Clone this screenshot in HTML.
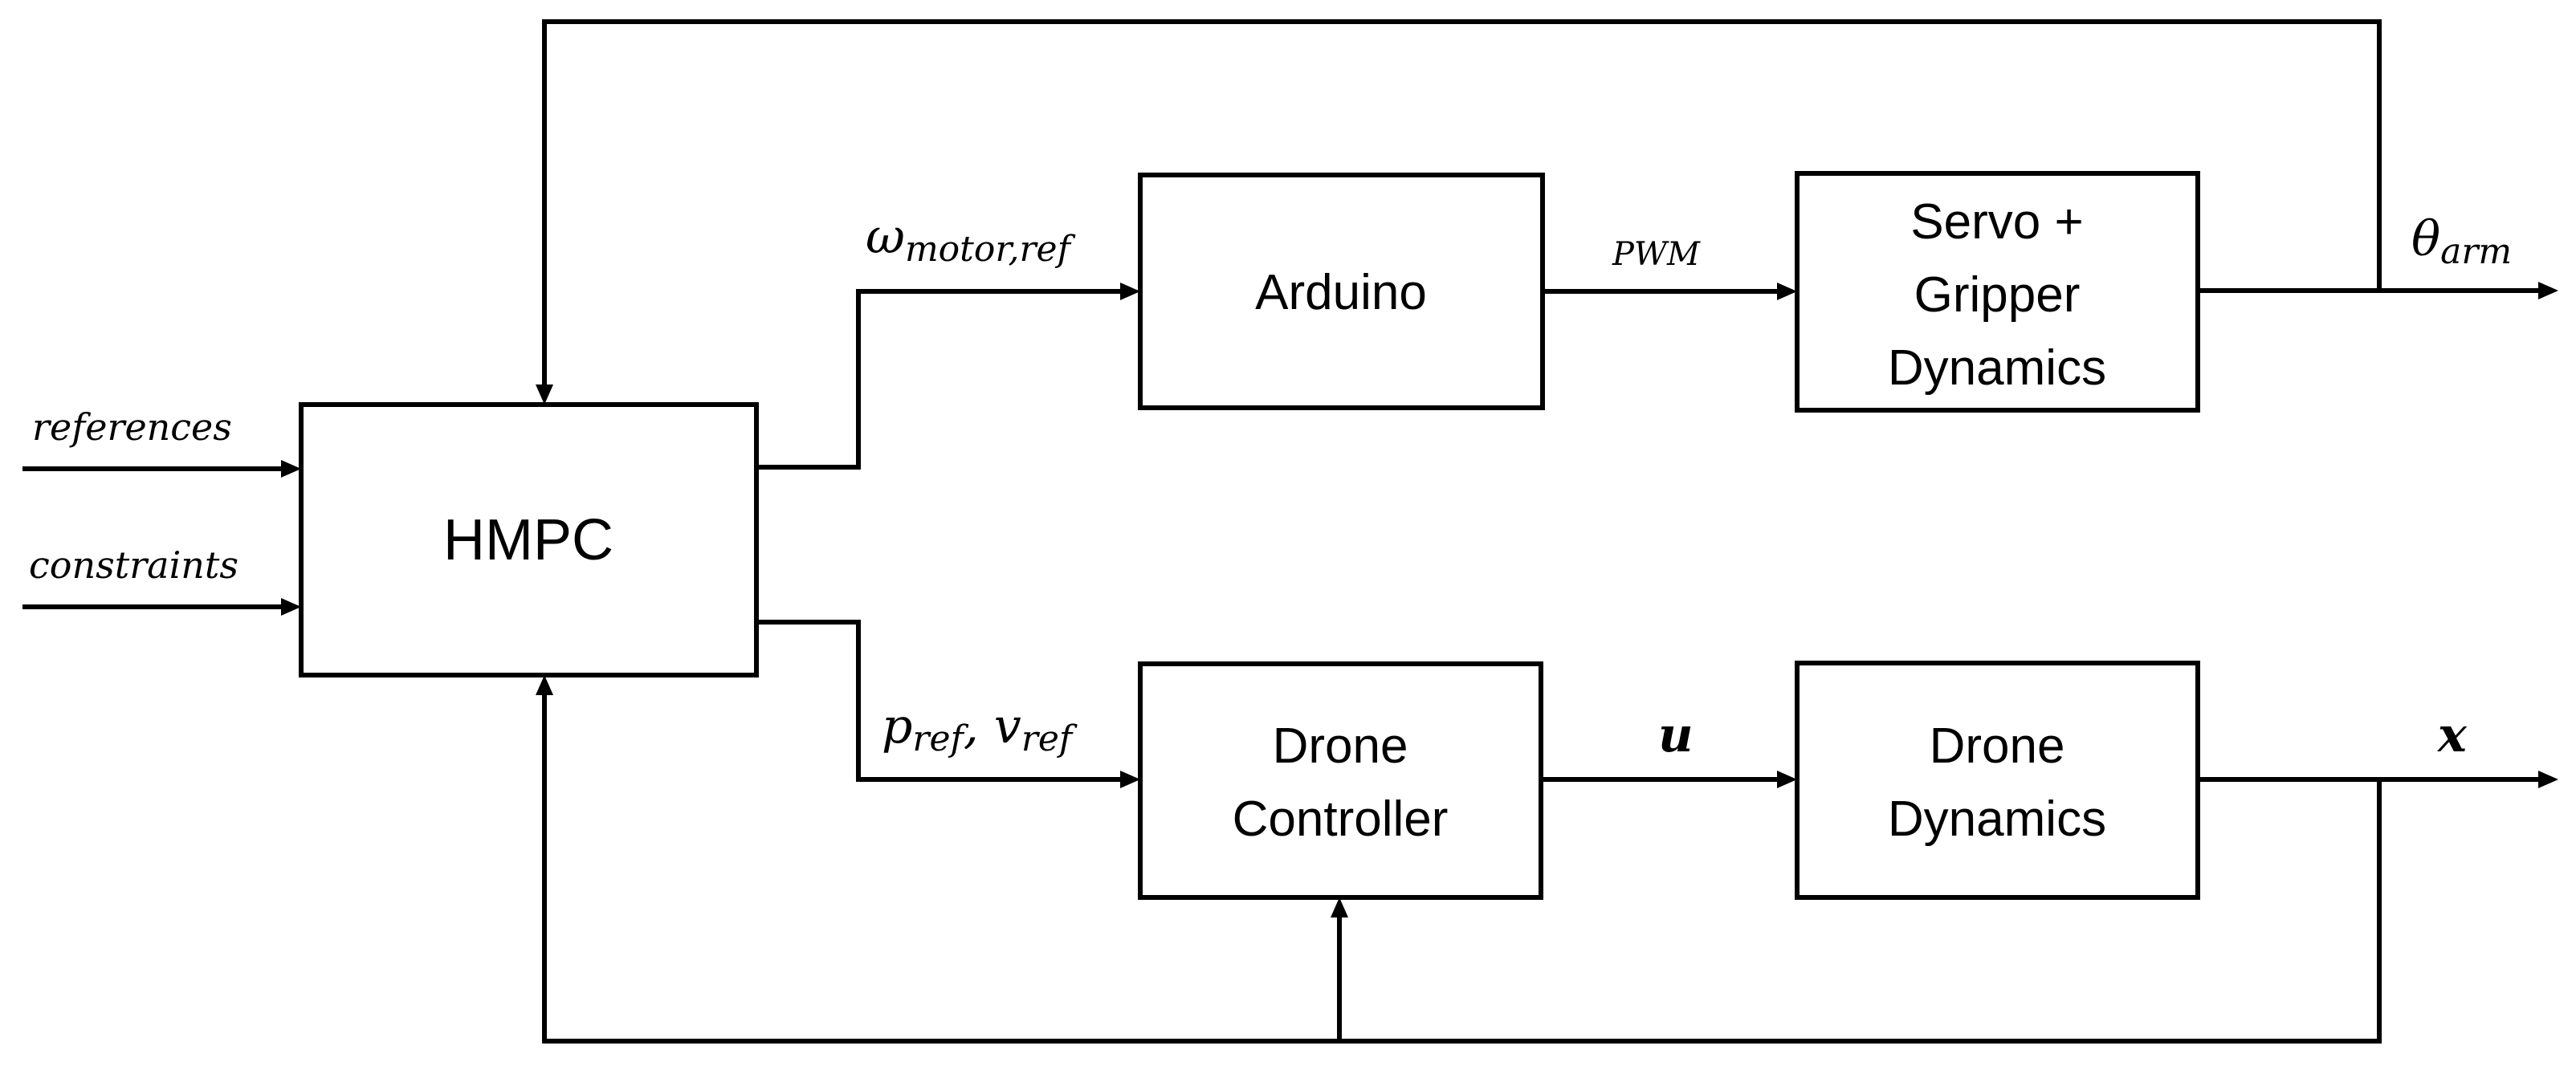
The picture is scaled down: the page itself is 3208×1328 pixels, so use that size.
<!DOCTYPE html>
<html><head><meta charset="utf-8"><style>
html,body{margin:0;padding:0;background:#fff;}
svg{display:block;}
.b{font-family:"Liberation Sans",sans-serif;font-size:62px;fill:#000;text-anchor:middle;}
.m{font-family:"DejaVu Serif","Liberation Serif",serif;font-style:italic;fill:#000;}
</style></head><body>
<svg width="3208" height="1328" viewBox="0 0 3208 1328" xmlns="http://www.w3.org/2000/svg">
<defs>
<marker id="a" markerWidth="10" markerHeight="10" refX="9" refY="5" orient="auto" markerUnits="userSpaceOnUse" viewBox="0 0 10 10">
</marker>
</defs>
<g stroke="#000" stroke-width="6" fill="none">
<rect x="375" y="504" width="567" height="337"/>
<rect x="1420" y="218" width="501" height="290"/>
<rect x="2238" y="216" width="499" height="295"/>
<rect x="1420" y="827" width="499" height="291"/>
<rect x="2238" y="826" width="499" height="292"/>
<!-- inputs -->
<line x1="28" y1="584" x2="352" y2="584"/>
<line x1="28" y1="756" x2="352" y2="756"/>
<!-- hmpc outputs -->
<polyline points="942,582 1069,582 1069,363 1397,363"/>
<polyline points="942,775 1069,775 1069,971 1397,971"/>
<line x1="1921" y1="363" x2="2215" y2="363"/>
<line x1="1919" y1="971" x2="2215" y2="971"/>
<line x1="2737" y1="362" x2="3162" y2="362"/>
<line x1="2737" y1="971" x2="3162" y2="971"/>
<!-- feedback -->
<polyline points="2963,362 2963,27 678,27 678,481"/>
<polyline points="2963,971 2963,1297 678,1297 678,864"/>
<line x1="1668" y1="1297" x2="1668" y2="1141"/>
</g>
<g fill="#000">
<polygon points="375,584 350,573 350,595"/>
<polygon points="375,756 350,745 350,767"/>
<polygon points="1420,363 1395,352 1395,374"/>
<polygon points="1420,971 1395,960 1395,982"/>
<polygon points="2238,363 2213,352 2213,374"/>
<polygon points="2238,971 2213,960 2213,982"/>
<polygon points="3186,362 3161,351 3161,373"/>
<polygon points="3186,971 3161,960 3161,982"/>
<polygon points="678,504 667,479 689,479"/>
<polygon points="678,841 667,866 689,866"/>
<polygon points="1668,1118 1657,1143 1679,1143"/>
</g>
<text class="b" x="658" y="697" style="font-size:72px">HMPC</text>
<text class="b" x="1670" y="385">Arduino</text>
<text class="b" x="2487" y="297">Servo +</text>
<text class="b" x="2487" y="388">Gripper</text>
<text class="b" x="2487" y="479">Dynamics</text>
<text class="b" x="1669" y="950">Drone</text>
<text class="b" x="1669" y="1041">Controller</text>
<text class="b" x="2487" y="950">Drone</text>
<text class="b" x="2487" y="1041">Dynamics</text>
<text class="m" x="40" y="548" font-size="46">references</text>
<text class="m" x="36" y="720" font-size="46">constraints</text>
<text class="m" x="1078" y="315" font-size="60">ω<tspan font-size="44" dy="10">motor,ref</tspan></text>
<text class="m" x="1098" y="925" font-size="60">p<tspan font-size="44" dy="10">ref</tspan><tspan dy="-10">, v</tspan><tspan font-size="44" dy="10">ref</tspan></text>
<text class="m" x="2008" y="330" font-size="40">PWM</text>
<text class="m" x="3003" y="318" font-size="60">θ<tspan font-size="44" dy="10">arm</tspan></text>
<text class="m" x="2065" y="936" font-size="60" font-weight="bold">u</text>
<text class="m" x="3036" y="936" font-size="60" font-weight="bold">x</text>
</svg>
</body></html>
